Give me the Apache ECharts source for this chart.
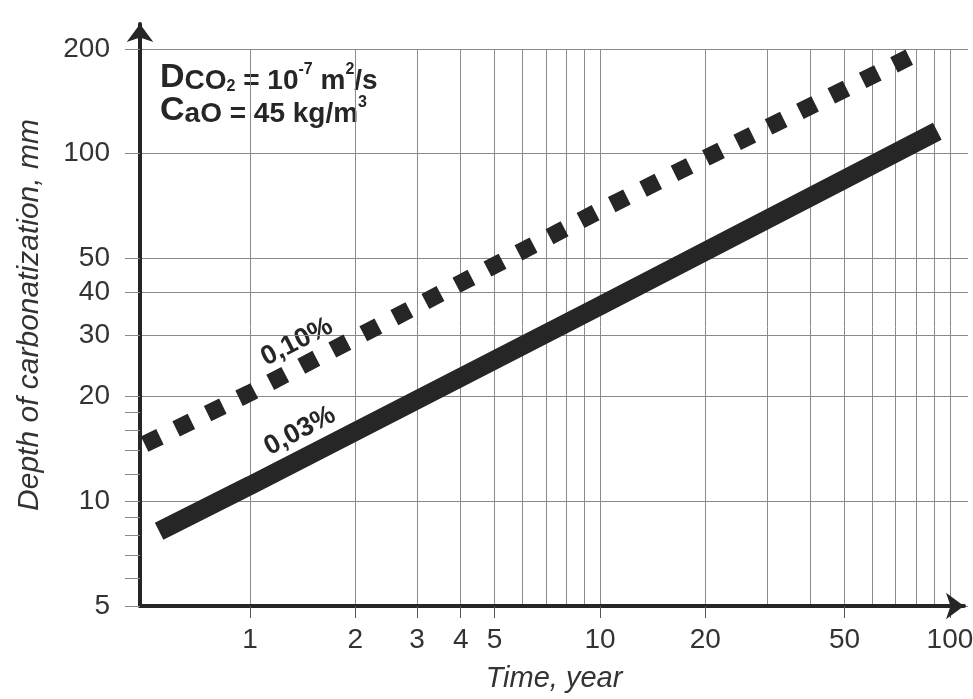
<!DOCTYPE html>
<html>
<head>
<meta charset="utf-8">
<script src="https://cdn.jsdelivr.net/npm/echarts@6/dist/echarts.min.js"></script>
<style>
  html, body { margin: 0; padding: 0; background: #fff; }
  #chart { width: 973px; height: 699px; }
</style>
</head>
<body>
<div id="chart"></div>
<script>
// eixos (ticks / grade)
const timeGrid = [1, 2, 3, 4, 5, 6, 7, 8, 9, 10, 20, 30, 40, 50, 60, 70, 80, 90, 100]
const timeLabels = [1, 2, 3, 4, 5, 10, 20, 50, 100]
const depthLabels = [5, 10, 20, 30, 40, 50, 100, 200]
const depthMinor = [6, 7, 8, 9, 12, 14, 16, 18]

// curvas (tempo em anos, profundidade em mm)
const time010 = [0.5, 1, 10, 77]
const depth010 = [14.6, 20.5, 68.7, 190]
const time003 = [0.55, 1, 10, 92]
const depth003 = [8.2, 11.1, 36.5, 116]

const FONT = '"Liberation Sans", Arial, sans-serif'
const INK = '#262626'
const GRID = '#8a8a8a'

const chart = echarts.init(document.getElementById('chart'))

const toPairs = (xs, ys) => xs.map((x, i) => [x, ys[i]])

const option = {
  backgroundColor: '#fff',
  animation: false,
  grid: [
    { left: 140, top: 49, width: 828, height: 557, outerBoundsMode: 'none' },
    // grid só para os eixos com seta
    { left: 140, top: 24, width: 824, height: 582, outerBoundsMode: 'none' },
  ],
  xAxis: [
    {
      gridIndex: 0,
      type: 'log',
      min: 0.485,
      max: 112.6,
      axisLine: { show: false },
      axisTick: { show: true, length: 12, customValues: timeLabels, lineStyle: { color: '#555', width: 1 } },
      axisLabel: { customValues: timeLabels, margin: 20, fontSize: 28, color: '#333', fontFamily: FONT },
      splitLine: { show: false },
      name: 'Time, year',
      nameLocation: 'middle',
      nameGap: 58,
      nameMoveOverlap: false,
      nameTextStyle: { fontSize: 29, fontStyle: 'italic', color: '#333', fontFamily: FONT },
    },
    {
      gridIndex: 0,
      type: 'log',
      min: 0.485,
      max: 112.6,
      axisLine: { show: false },
      axisTick: { show: false, customValues: timeGrid },
      axisLabel: { show: false },
      splitLine: { show: true, lineStyle: { color: GRID, width: 1 } },
    },
    {
      gridIndex: 1,
      type: 'value',
      min: 0,
      max: 1,
      axisLine: { show: true, symbol: ['none', 'arrow'], symbolSize: [20, 18], lineStyle: { color: INK, width: 4 } },
      axisTick: { show: false },
      axisLabel: { show: false },
      splitLine: { show: false },
    },
  ],
  yAxis: [
    {
      gridIndex: 0,
      type: 'log',
      position: 'left',
      min: 5,
      max: 200,
      axisLine: { show: false },
      axisTick: { show: true, length: 15, customValues: depthLabels, lineStyle: { color: GRID, width: 1 } },
      axisLabel: { customValues: depthLabels, margin: 30, fontSize: 28, color: '#333', fontFamily: FONT },
      splitLine: { show: true, lineStyle: { color: GRID, width: 1 } },
    },
    {
      gridIndex: 0,
      type: 'log',
      position: 'left',
      min: 5,
      max: 200,
      axisLine: { show: false },
      axisTick: { show: true, length: 15, customValues: depthMinor, lineStyle: { color: GRID, width: 1 } },
      axisLabel: { show: false },
      splitLine: { show: false },
    },
    {
      gridIndex: 1,
      type: 'value',
      position: 'left',
      min: 0,
      max: 1,
      axisLine: { show: true, symbol: ['none', 'arrow'], symbolSize: [20, 18], lineStyle: { color: INK, width: 4 } },
      axisTick: { show: false },
      axisLabel: { show: false },
      splitLine: { show: false },
      name: 'Depth of carbonatization, mm',
      nameLocation: 'middle',
      nameGap: 95,
      nameMoveOverlap: false,
      nameTextStyle: { fontSize: 30, fontStyle: 'italic', color: '#333', fontFamily: FONT },
    },
  ],
  series: [
    {
      name: '0,10%',
      type: 'line',
      xAxisIndex: 0,
      yAxisIndex: 0,
      showSymbol: false,
      data: toPairs(time010, depth010),
      lineStyle: { color: INK, width: 17, type: [17, 18], cap: 'butt' },
    },
    {
      name: '0,03%',
      type: 'line',
      xAxisIndex: 0,
      yAxisIndex: 0,
      showSymbol: false,
      data: toPairs(time003, depth003),
      lineStyle: { color: INK, width: 19, type: 'solid', cap: 'butt' },
    },
  ],
  graphic: [
    {
      type: 'text',
      left: 160,
      top: 61,
      style: {
        text: '{big|D}{mid|CO}{sub|2}{mid| = 10}{sup|-7}{mid| m}{sup|2}{mid|/s}\n{big|C}{mid|aO = 45 kg/m}{sup|3}',
        fill: INK,
        fontFamily: FONT,
        fontWeight: 'bold',
        rich: {
          big: { fontSize: 34, fontWeight: 'bold', lineHeight: 33, verticalAlign: 'bottom', fontFamily: FONT },
          mid: { fontSize: 28, fontWeight: 'bold', lineHeight: 28, verticalAlign: 'bottom', fontFamily: FONT },
          sub: { fontSize: 16, fontWeight: 'bold', lineHeight: 8, verticalAlign: 'bottom', fontFamily: FONT },
          sup: { fontSize: 16, fontWeight: 'bold', lineHeight: 28, verticalAlign: 'top', fontFamily: FONT },
        },
      },
    },
    {
      type: 'text',
      x: 297,
      y: 342,
      rotation: 27 * Math.PI / 180,
      style: { text: '0,10%', fontSize: 27, fontWeight: 'bold', fill: INK, fontFamily: FONT, align: 'center', verticalAlign: 'middle' },
    },
    {
      type: 'text',
      x: 300,
      y: 431,
      rotation: 28 * Math.PI / 180,
      style: { text: '0,03%', fontSize: 27, fontWeight: 'bold', fill: INK, fontFamily: FONT, align: 'center', verticalAlign: 'middle' },
    },
  ],
}

chart.setOption(option)
</script>
</body>
</html>
